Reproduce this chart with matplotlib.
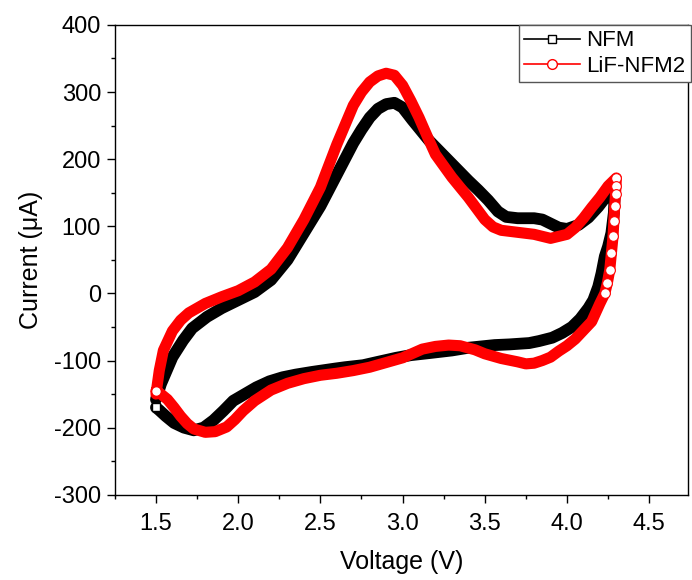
import matplotlib
matplotlib.use('Agg')
import matplotlib.pyplot as plt
from matplotlib.lines import Line2D
from matplotlib.ticker import MultipleLocator

plt.rcParams['font.family'] = ['Liberation Sans', 'DejaVu Sans']
plt.rcParams['axes.unicode_minus'] = False

# NFM cyclic voltammogram: anodic sweep 1.5 -> 4.3 V, then cathodic back to 1.5 V
nfm_v = [1.50, 1.53, 1.565, 1.60, 1.665, 1.72, 1.81, 1.90, 2.00, 2.10, 2.20, 2.30,
         2.40, 2.50, 2.60, 2.70, 2.75, 2.80, 2.85, 2.90, 2.95, 3.00, 3.06, 3.16,
         3.28, 3.40, 3.46, 3.52, 3.58, 3.63, 3.70, 3.80, 3.85, 3.90, 3.95, 4.00,
         4.07, 4.13, 4.19, 4.24, 4.28, 4.29,
         4.285, 4.27, 4.25, 4.23, 4.21, 4.19, 4.16, 4.13, 4.08, 4.03, 3.97, 3.91,
         3.83, 3.77, 3.65, 3.56, 3.48, 3.40, 3.30, 3.16, 3.05, 2.96, 2.85, 2.76,
         2.65, 2.59, 2.45, 2.35, 2.27, 2.19, 2.11, 2.04, 1.97, 1.91, 1.85, 1.79,
         1.73, 1.67, 1.61, 1.56, 1.52, 1.50]
nfm_i = [-158, -135, -115, -95, -70, -52, -35, -22, -10, 2, 20, 50,
         90, 130, 177, 224, 244, 262, 275, 282, 284, 277, 258, 228,
         198, 168, 154, 139, 122, 114, 112, 112, 110, 104, 98, 96,
         102, 113, 129, 145, 152, 148,
         120, 90, 70, 55, 30, 10, -10, -22, -38, -50, -59, -66,
         -71, -74, -76, -77, -79, -81, -85, -89, -92, -96, -102, -107,
         -110, -112, -117, -121, -125, -131, -140, -150, -160, -175, -189, -200,
         -204, -200, -193, -183, -174, -170]

# LiF-NFM2 cyclic voltammogram
lif_v = [1.50, 1.52, 1.545, 1.60, 1.65, 1.70, 1.80, 1.90, 2.00, 2.10, 2.20, 2.30,
         2.40, 2.50, 2.60, 2.70, 2.75, 2.80, 2.85, 2.90, 2.95, 3.00, 3.05, 3.10,
         3.15, 3.20, 3.30, 3.40, 3.50, 3.55, 3.60, 3.70, 3.80, 3.90, 3.95, 4.00,
         4.05, 4.10, 4.15, 4.20, 4.25, 4.30,
         4.298, 4.295, 4.29, 4.285, 4.28, 4.27, 4.26, 4.245, 4.23, 4.20, 4.15, 4.10,
         4.05, 4.00, 3.95, 3.90, 3.85, 3.80, 3.75, 3.70, 3.60, 3.50, 3.44, 3.35,
         3.28, 3.20, 3.12, 3.00, 2.90, 2.80, 2.70, 2.60, 2.50, 2.40, 2.30, 2.20,
         2.10, 2.03, 1.98, 1.93, 1.86, 1.80, 1.73, 1.69, 1.65, 1.61, 1.57, 1.53,
         1.50]
lif_i = [-150, -115, -85, -56, -40, -29, -15, -5, 4, 17, 36, 68,
         110, 158, 222, 280, 300, 315, 324, 328, 325, 310, 287, 262,
         234, 207, 173, 143, 110, 99, 94, 91, 88, 82, 85, 88,
         98, 112, 128, 143, 160, 172,
         160, 148, 130, 108, 85, 60, 35, 15, 0, -15, -42, -55,
         -68, -78, -86, -95, -100, -104, -105, -102, -97, -90, -84, -78,
         -77, -79, -83, -96, -103, -110, -115, -119, -122, -127, -134, -144,
         -160, -175, -188, -199, -206, -207, -202, -194, -183, -170, -158, -150,
         -145]

fig = plt.figure(figsize=(6.92, 5.8), dpi=100)
ax = fig.add_axes([0.166, 0.147, 0.828, 0.810])

ax.plot(nfm_v, nfm_i, color='black', lw=8.5, solid_capstyle='round',
        solid_joinstyle='round', zorder=2)
ax.plot(nfm_v[-1:], nfm_i[-1:], ls='none', marker='s', ms=6, mfc='white',
        mec='black', mew=1, zorder=4)

ax.plot(lif_v, lif_i, color='red', lw=8, solid_capstyle='round',
        solid_joinstyle='round', zorder=3)
# open circles along the steep part of the reversal at 4.3 V
ax.plot(lif_v[41:51], lif_i[41:51], ls='none', marker='o', ms=7, mfc='white',
        mec='red', mew=0.8, zorder=3)
ax.plot(lif_v[-1:], lif_i[-1:], ls='none', marker='o', ms=7, mfc='white',
        mec='red', mew=1, zorder=4)

ax.set_xlim(1.25, 4.735)
ax.set_ylim(-300, 400)
ax.xaxis.set_major_locator(MultipleLocator(0.5))
ax.xaxis.set_minor_locator(MultipleLocator(0.25))
ax.yaxis.set_major_locator(MultipleLocator(100))
ax.yaxis.set_minor_locator(MultipleLocator(50))
ax.set_xticks([1.5, 2.0, 2.5, 3.0, 3.5, 4.0, 4.5])
ax.set_xticklabels(['1.5', '2.0', '2.5', '3.0', '3.5', '4.0', '4.5'])

ax.tick_params(which='major', direction='out', length=6, width=1,
               labelsize=17, top=False, right=False)
ax.tick_params(which='minor', direction='out', length=3, width=1,
               top=False, right=False)
ax.tick_params(axis='x', which='major', pad=7)
ax.tick_params(axis='y', which='major', pad=4)
for s in ax.spines.values():
    s.set_linewidth(1.0)

ax.set_xlabel('Voltage (V)', fontsize=18, labelpad=11)
ax.set_ylabel('Current (\u03bcA)', fontsize=18, labelpad=8)

handles = [
    Line2D([], [], color='black', lw=1.2, marker='s', ms=6, mfc='white', mec='black'),
    Line2D([], [], color='red', lw=1.2, marker='o', ms=7, mfc='white', mec='red'),
]
leg = ax.legend(handles, ['NFM', 'LiF-NFM2'], loc='upper right',
                bbox_to_anchor=(1.006, 1.0), borderaxespad=0, fontsize=16,
                fancybox=False, framealpha=1, edgecolor='#555555',
                handlelength=2.5, handletextpad=0.3, borderpad=0.25,
                labelspacing=0.2)
leg.get_frame().set_linewidth(1.0)

fig.savefig('out.png', dpi=100)
